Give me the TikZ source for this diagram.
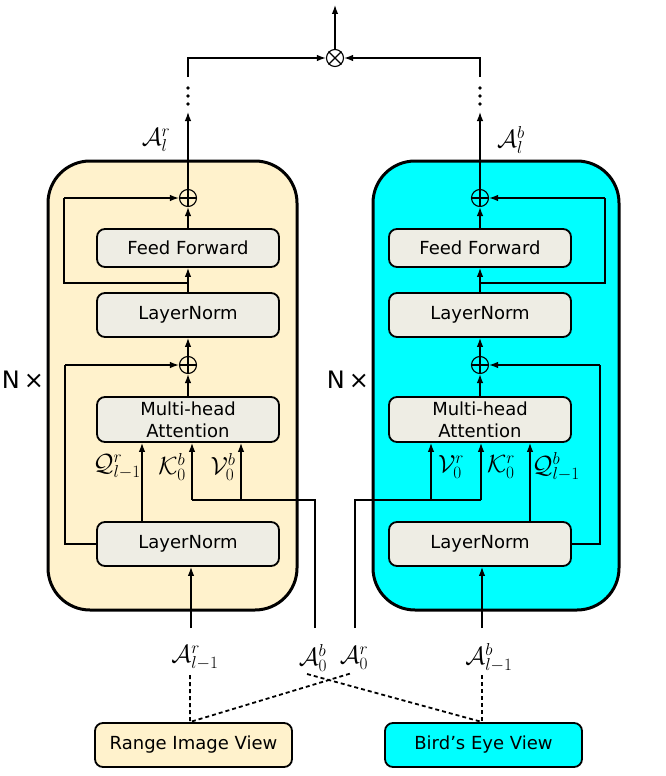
\documentclass[tikz,border=0pt]{standalone}
\usepackage{fontspec}
\setmainfont{DejaVu Sans}
\usetikzlibrary{arrows.meta}
\definecolor{beige}{RGB}{255,242,204}
\definecolor{boxgray}{RGB}{238,237,228}
\definecolor{cyanf}{RGB}{0,255,255}
\begin{document}
\begin{tikzpicture}[x=1pt,y=-1pt,
  arr/.style={-{Latex[length=9pt,width=6.5pt]}, line width=1.3pt},
  ln/.style={line width=1.3pt},
  dsh/.style={line width=1.8pt, dash pattern=on 4pt off 3pt},
  bigbox/.style={draw, line width=3pt, rounded corners=42pt, inner sep=0pt},
  ibox/.style={draw, line width=1.8pt, rounded corners=8pt, fill=boxgray, minimum width=182pt, inner sep=0pt, align=center, font=\fontsize{18}{22}\selectfont},
  vbox/.style={draw, line width=1.8pt, rounded corners=8pt, minimum width=197pt, minimum height=44pt, inner sep=0pt, font=\fontsize{18}{22}\selectfont},
  opc/.style={draw, circle, line width=1.1pt, minimum size=17pt, inner sep=0pt},
  mlab/.style={inner sep=0pt, font=\fontsize{24}{26}\selectfont},
  nlab/.style={inner sep=0pt, font=\fontsize{24}{26}\selectfont}
]
\useasboundingbox (0,0) rectangle (665,776);

% big boxes
\node[bigbox, fill=beige, minimum width=249pt, minimum height=449pt] (lbig) at (172.5,385.5) {};
\node[bigbox, fill=cyanf, minimum width=246pt, minimum height=449pt] (rbig) at (496,385.5) {};

\node[nlab] (nl) at (23,380) {N\,×};
\node[nlab] (nr) at (348,380) {N\,×};

% ---------- left column ----------
\node[ibox, minimum height=38pt] (lff) at (188,248) {Feed Forward};
\node[ibox, minimum height=44pt] (lln2) at (188,315) {LayerNorm};
\node[ibox, minimum height=45pt] (lmha) at (188,419.5) {Multi-head\\Attention};
\node[ibox, minimum height=44pt] (lln1) at (188,544) {LayerNorm};
\node[opc] (lp2) at (188,198) {};
\node[opc] (lp1) at (188,365) {};
\draw[ln] (lp2.north) -- (lp2.south) (lp2.west) -- (lp2.east);
\draw[ln] (lp1.north) -- (lp1.south) (lp1.west) -- (lp1.east);

\coordinate (lin) at (191,628);
\draw[arr] (lin) -- (lin |- lln1.south);
\coordinate (lq) at (142,0);
\draw[arr] (lq |- lln1.north) -- (lq |- lmha.south);
\coordinate (lkv) at (315,628);
\coordinate (lk) at (192,500);
\coordinate (lv) at (241,500);
\draw[ln] (lkv) |- (lk);
\draw[arr] (lk) -- (lk |- lmha.south);
\draw[arr] (lv) -- (lv |- lmha.south);
\coordinate (lr1) at (65,0);
\draw[ln] (lln1.west) -| (lr1 |- lp1);
\draw[arr] (lr1 |- lp1) -- (lp1);
\draw[arr] (lmha) -- (lp1);
\draw[arr] (lp1) -- (lln2);
\draw[arr] (lln2) -- (lff);
\coordinate (lj) at (188,283);
\coordinate (lr2) at (64,0);
\draw[ln] (lj) -| (lr2 |- lp2);
\draw[arr] (lr2 |- lp2) -- (lp2);
\draw[arr] (lff) -- (lp2);
\coordinate (ltop) at (188,112);
\draw[arr] (lp2) -- (ltop);
\fill (188,88) circle (1.9pt) (188,96) circle (1.9pt) (188,104) circle (1.9pt);

\node[mlab] (qlr) at (117,467) {$\mathcal{Q}^{r}_{l-1}$};
\node[mlab] (k0b) at (172,467) {$\mathcal{K}^{b}_{0}$};
\node[mlab] (v0b) at (223,467) {$\mathcal{V}^{b}_{0}$};
\node[mlab] (alr) at (156,140) {$\mathcal{A}^{r}_{l}$};

% ---------- right column ----------
\node[ibox, minimum height=38pt] (rff) at (480,248) {Feed Forward};
\node[ibox, minimum height=44pt] (rln2) at (480,315) {LayerNorm};
\node[ibox, minimum height=45pt] (rmha) at (480,419.5) {Multi-head\\Attention};
\node[ibox, minimum height=44pt] (rln1) at (480,544) {LayerNorm};
\node[opc] (rp2) at (480,198) {};
\node[opc] (rp1) at (480,365) {};
\draw[ln] (rp2.north) -- (rp2.south) (rp2.west) -- (rp2.east);
\draw[ln] (rp1.north) -- (rp1.south) (rp1.west) -- (rp1.east);

\coordinate (rin) at (482,628);
\draw[arr] (rin) -- (rin |- rln1.south);
\coordinate (rq) at (530,0);
\draw[arr] (rq |- rln1.north) -- (rq |- rmha.south);
\coordinate (rkv) at (355,628);
\coordinate (rk) at (481,500);
\coordinate (rv) at (431,500);
\draw[ln] (rkv) |- (rk);
\draw[arr] (rk) -- (rk |- rmha.south);
\draw[arr] (rv) -- (rv |- rmha.south);
\coordinate (rr1) at (600,0);
\draw[ln] (rln1.east) -| (rr1 |- rp1);
\draw[arr] (rr1 |- rp1) -- (rp1);
\draw[arr] (rmha) -- (rp1);
\draw[arr] (rp1) -- (rln2);
\draw[arr] (rln2) -- (rff);
\coordinate (rj) at (480,283);
\coordinate (rr2) at (605,0);
\draw[ln] (rj) -| (rr2 |- rp2);
\draw[arr] (rr2 |- rp2) -- (rp2);
\draw[arr] (rff) -- (rp2);
\coordinate (rtop) at (480,112);
\draw[arr] (rp2) -- (rtop);
\fill (480,88) circle (1.9pt) (480,96) circle (1.9pt) (480,104) circle (1.9pt);

\node[mlab] (v0r) at (451,467) {$\mathcal{V}^{r}_{0}$};
\node[mlab] (k0r) at (501,467) {$\mathcal{K}^{r}_{0}$};
\node[mlab] (qlb) at (556,467) {$\mathcal{Q}^{b}_{l-1}$};
\node[mlab] (alb) at (511,140) {$\mathcal{A}^{b}_{l}$};

% ---------- top fusion ----------
\node[opc] (x) at (335,58) {};
\draw[ln] (x.45) -- (x.225) (x.135) -- (x.315);
\coordinate (lend) at (188,77);
\coordinate (rend) at (480,77);
\draw[arr] (lend) |- (x);
\draw[arr] (rend) |- (x);
\coordinate (xtop) at (335,5);
\draw[arr] (x) -- (xtop);

% ---------- inputs ----------
\node[mlab] (ailr) at (195,658) {$\mathcal{A}^{r}_{l-1}$};
\node[mlab] (a0b) at (313,658) {$\mathcal{A}^{b}_{0}$};
\node[mlab] (a0r) at (354,658) {$\mathcal{A}^{r}_{0}$};
\node[mlab] (ailb) at (489,658) {$\mathcal{A}^{b}_{l-1}$};

\node[vbox, fill=beige] (rng) at (193.5,745) {Range Image View};
\node[vbox, fill=cyanf] (bev) at (483.5,745) {Bird’s Eye View};

\coordinate (d1) at (190,675);
\coordinate (d1b) at (190,722);
\coordinate (d2) at (352,673);
\coordinate (d3) at (307,674);
\coordinate (d4) at (482,675);
\coordinate (d4b) at (482,722);
\draw[dsh] (d1) -- (d1b) -- (d2);
\draw[dsh] (d3) -- (d4b);
\draw[dsh] (d4) -- (d4b);
\end{tikzpicture}
\end{document}
